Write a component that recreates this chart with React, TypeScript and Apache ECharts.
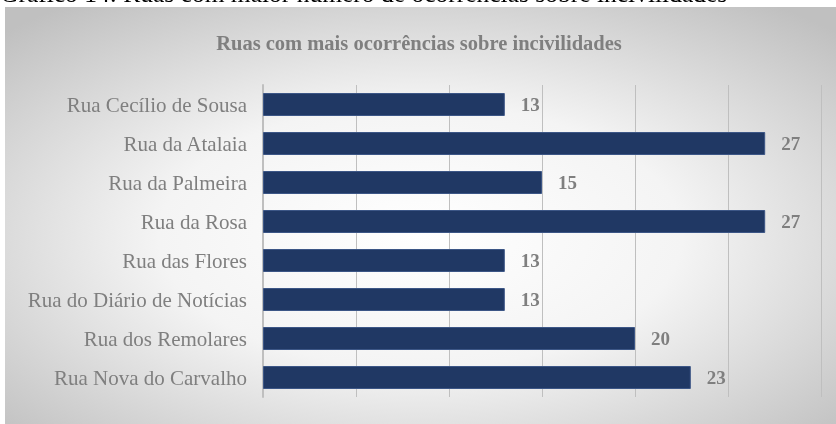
import React, { useEffect, useRef } from "react";
import * as echarts from "echarts";

const categories = [
  "Rua Cecílio de Sousa",
  "Rua da Atalaia",
  "Rua da Palmeira",
  "Rua da Rosa",
  "Rua das Flores",
  "Rua do Diário de Notícias",
  "Rua dos Remolares",
  "Rua Nova do Carvalho",
];
const values = [13, 27, 15, 27, 13, 13, 20, 23];
const chartTitle = "Ruas com mais ocorrências sobre incivilidades";
const caption = "Gráfico 14: Ruas com maior número de ocorrências sobre incivilidades";

const SERIF = "'Liberation Serif', 'Times New Roman', serif";

export default function App() {
  const ref = useRef<HTMLDivElement>(null);
  useEffect(() => {
    if (!ref.current) return;
    const chart = echarts.init(ref.current, null, { renderer: "svg" });
    chart.setOption({
      animation: false,
      graphic: [
        {
          type: "rect",
          z: -10,
          silent: true,
          shape: { x: 5, y: 7, width: 831, height: 417 },
          style: {
            fill: new echarts.graphic.RadialGradient(0.5, 0.55, 0.7, [
              { offset: 0, color: "#ffffff" },
              { offset: 0.45, color: "#f4f4f4" },
              { offset: 1, color: "#c0c0c0" },
            ]),
          },
        },
        {
          type: "text",
          left: 0,
          top: -20,
          z: -5,
          style: {
            text: caption,
            fill: "#000000",
            font: `25.5px ${SERIF}`,
          },
        },
      ],
      title: {
        text: chartTitle,
        left: 414,
        textAlign: "center",
        top: 27,
        textStyle: {
          fontFamily: SERIF,
          fontWeight: "bold",
          fontSize: 20.5,
          color: "#7f7f7f",
        },
      },
      grid: { left: 263, right: 15, top: 85, bottom: 27, containLabel: false },
      xAxis: {
        type: "value",
        min: 0,
        max: 30,
        interval: 5,
        axisLabel: { show: false },
        axisLine: { show: false },
        axisTick: { show: false },
        splitLine: { show: true, lineStyle: { color: "#bfbfbf", width: 1 } },
      },
      yAxis: {
        type: "category",
        data: categories,
        inverse: true,
        axisLine: { show: true, lineStyle: { color: "#bfbfbf", width: 2 } },
        axisTick: { show: false },
        axisLabel: {
          margin: 16,
          fontFamily: SERIF,
          fontSize: 21,
          color: "#7f7f7f",
        },
      },
      series: [
        {
          type: "bar",
          data: values,
          barWidth: 23,
          itemStyle: { color: "#203864", borderColor: "#3c5686", borderWidth: 1 },
          label: {
            show: true,
            position: "right",
            distance: 16,
            fontFamily: SERIF,
            fontWeight: "bold",
            fontSize: 19,
            color: "#7f7f7f",
          },
        },
      ],
    });
    return () => chart.dispose();
  }, []);
  return (
    <div
      ref={ref}
      style={{ position: "fixed", left: 0, top: 0, width: 836, height: 424 }}
    />
  );
}
